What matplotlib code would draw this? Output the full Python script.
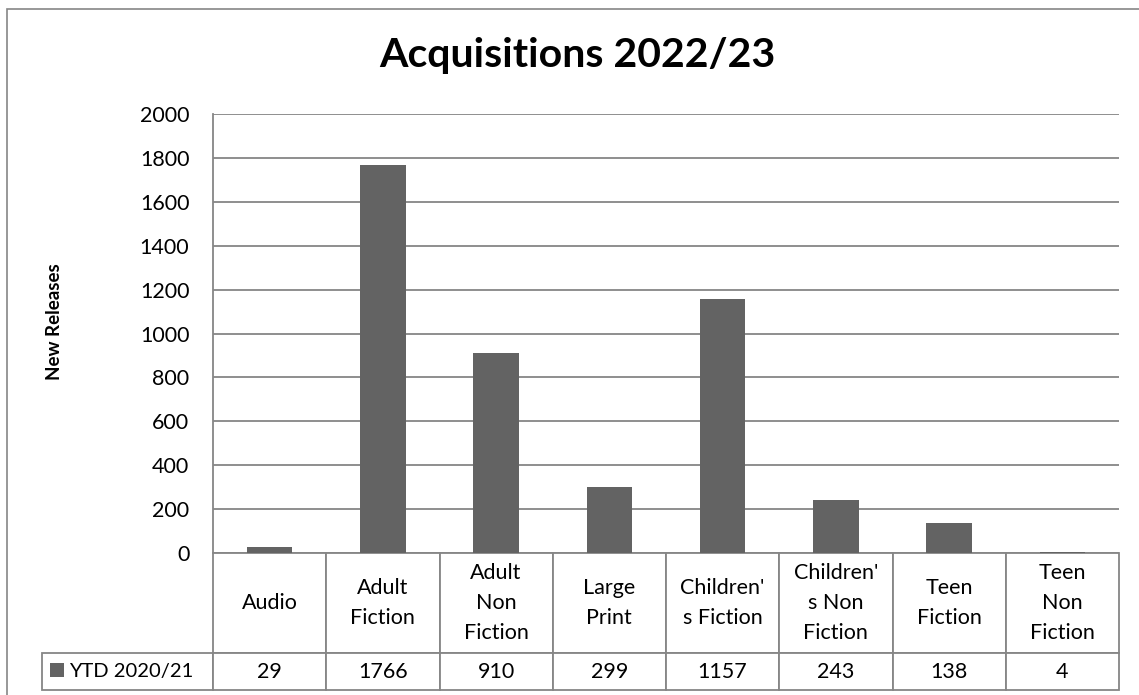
import matplotlib.pyplot as plt
from matplotlib.patches import Rectangle
import numpy as np

# data
categories = ['Audio', 'Adult\nFiction', 'Adult\nNon\nFiction', 'Large\nPrint',
              "Children'\ns Fiction", "Children'\ns Non\nFiction", 'Teen\nFiction',
              'Teen\nNon\nFiction']
values = [29, 1766, 910, 299, 1157, 243, 138, 4]
series_name = 'YTD 2020/21'
title = 'Acquisitions 2022/23'
y_label = 'New Releases'
y_ticks = [0, 200, 400, 600, 800, 1000, 1200, 1400, 1600, 1800, 2000]

plt.rcParams['font.family'] = ['Lato', 'DejaVu Sans']

W, H = 1139, 695
fig = plt.figure(figsize=(W / 100, H / 100), dpi=100)

def px(x0, y0, x1, y1):
    # pixel box (top-left origin) -> figure fraction rect
    return [x0 / W, 1 - y1 / H, (x1 - x0) / W, (y1 - y0) / H]

# outer chart border (right/bottom cut off in the reference)
fig.patches.append(Rectangle((7 / W, -0.1), 1.2, 1 - 9 / H + 0.1, transform=fig.transFigure,
                             fill=False, edgecolor='#868686', linewidth=1.2))

gray = '#868686'
bar_color = '#636363'

ax = fig.add_axes(px(213, 114, 1119, 553))
x = np.arange(len(values))
bars = ax.bar(x, values, width=0.4, color=bar_color, label=series_name, zorder=3)
ax.set_xlim(-0.5, len(values) - 0.5)
ax.set_ylim(0, 2000)
ax.set_yticks(y_ticks)
ax.set_yticklabels([str(t) for t in y_ticks], fontsize=15.5)
ax.set_xticks([])
ax.tick_params(axis='y', length=0, pad=17)
ax.grid(axis='y', color=gray, linewidth=1.3, zorder=0)
for s in ['top', 'right', 'bottom']:
    ax.spines[s].set_visible(False)
ax.spines['left'].set_color(gray)
ax.spines['left'].set_linewidth(1.3)

fig.text(577 / W, 1 - 56 / H, title, fontsize=29.5, fontweight='bold',
         ha='center', va='center')
fig.text(55 / W, 1 - 322 / H, y_label, fontsize=13.5, fontweight='bold', rotation=90,
         ha='center', va='center')

# data table under the plot; first column holds the legend key
plot_w = 1119 - 213
plot_h = 553 - 114
tbl = ax.table(cellText=[[''] + [str(v) for v in values]], colLabels=[''] + categories,
               cellLoc='center',
               bbox=[(42 - 213) / plot_w, -(690 - 553) / plot_h, (1119 - 42) / plot_w,
                     (690 - 553) / plot_h])
tbl.auto_set_font_size(False)
tbl.set_fontsize(15.5)
col_w = 113.25
for (r, c), cell in tbl.get_celld().items():
    cell.set_edgecolor(gray)
    cell.set_linewidth(1.3)
    cell.set_height(100 if r == 0 else 37)
    cell.set_width(171 if c == 0 else col_w)
    cell.PAD = 0.02
    cell.get_text().set_linespacing(1.62)
    if r == 0 and c == 0:
        cell.set_edgecolor('none')
        cell.set_facecolor('none')

# legend key inside the row label cell
fig.legend(handles=[bars], labels=[series_name], loc='center left',
           bbox_to_anchor=(50 / W, 1 - 671.5 / H), frameon=False, fontsize=14.5,
           handlelength=0.7, handleheight=0.7, handletextpad=0.25, borderpad=0,
           borderaxespad=0)

fig.savefig('out.png', dpi=100)
